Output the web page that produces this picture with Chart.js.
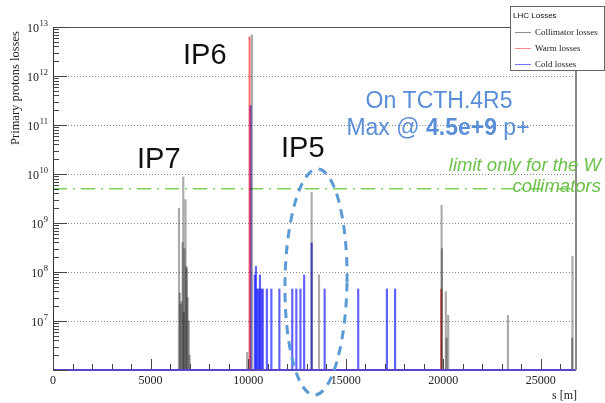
<!DOCTYPE html>
<html>
<head>
<meta charset="utf-8">
<script src="https://cdn.jsdelivr.net/npm/chart.js@4.4.0/dist/chart.umd.min.js"></script>
<style>
html,body{margin:0;padding:0;background:#fff}
#wrap{width:605px;height:403px}
</style>
</head>
<body>
<div id="wrap"><canvas id="c"></canvas></div>
<script>
// loss map: s position [m] and primary proton losses
const collS = [6455,6500,6540,6590,6640,6676,6700,6740,6790,6830,6860,6900,6960,7000,
               9950,10195,13253,13630,19913,19930,20130,20170,20250,23310,26600,26620];
const collV = [2.0e9,3.7e7,2.2e7,2.5e7,4.0e8,8.7e9,1.5e7,3.0e8,3.0e9,1.3e8,1.2e8,3.0e7,1.0e7,2.0e6,
               2.3e6,6.9e12,4.2e9,8.7e7,2.3e9,3.0e8,4.0e7,4.5e6,1.3e7,1.3e7,4.5e6,2.1e8];
const warmS = [10075,19890];
const warmV = [6.3e12,4.5e7];
const coldS = [10120,10340,10400,10470,10540,10605,10680,10750,10960,11190,11600,12260,12470,
               12680,12870,13253,13920,15640,17110,17530];
const coldV = [2.5e11,8.7e7,1.3e8,4.5e7,4.5e7,8.7e7,4.5e7,4.5e7,4.5e7,4.5e7,4.5e7,4.5e7,4.5e7,
               4.5e7,8.7e7,3.9e8,4.5e7,4.5e7,4.5e7,4.5e7];
const limitS = [0,26800];
const limitV = [5e9,5e9];
const xTicks = [0,5000,10000,15000,20000,25000];
const yTicks = [1e6,1e7,1e8,1e9,1e10,1e11,1e12,1e13];

const pts = (xs,ys)=>xs.map((x,i)=>({x:x,y:ys[i]}));
const SERIF = '"Liberation Serif","DejaVu Serif",serif';
const SANS = '"Liberation Sans",Arial,sans-serif';
const BLUE_TXT = '#5a8ed8';
const GREEN = '#6cc14a';

// frame, inward ticks, labels, notes and legend (ROOT style)
const overlay = {
  id:'overlay',
  afterDatasetsDraw(chart){
    const {ctx, chartArea:a} = chart;
    ctx.save();
    ctx.strokeStyle='#5b46c9'; ctx.lineWidth=2;
    ctx.beginPath(); ctx.moveTo(a.left,a.bottom); ctx.lineTo(a.right,a.bottom); ctx.stroke();
    ctx.restore();
  },
  afterDraw(chart){
    const {ctx, chartArea:a} = chart;
    const xs=chart.scales.x, ys=chart.scales.y;
    ctx.save();
    // frame
    ctx.lineWidth=1;
    ctx.strokeStyle='#333';
    ctx.beginPath(); ctx.moveTo(a.left+0.5,a.bottom); ctx.lineTo(a.left+0.5,a.top); ctx.stroke();
    ctx.strokeStyle='#555';
    ctx.beginPath(); ctx.moveTo(a.left,a.top+0.5); ctx.lineTo(a.right,a.top+0.5); ctx.stroke();
    ctx.strokeStyle='#8a8a8a'; ctx.lineWidth=2;
    ctx.beginPath(); ctx.moveTo(a.right,a.top); ctx.lineTo(a.right,a.bottom); ctx.stroke();

    // x ticks pointing inward
    ctx.strokeStyle='#444'; ctx.lineWidth=1;
    for(let s=0;s<=xs.max;s+=1000){
      const px=Math.round(xs.getPixelForValue(s))+0.5;
      const len = s%5000===0 ? 10 : 5;
      ctx.beginPath(); ctx.moveTo(px,a.bottom-1); ctx.lineTo(px,a.bottom-1-len); ctx.stroke();
    }
    // y ticks pointing inward
    ys.ticks.forEach(t=>{
      const py=Math.round(ys.getPixelForValue(t.value))+0.5;
      ctx.beginPath(); ctx.moveTo(a.left,py); ctx.lineTo(a.left+14,py); ctx.stroke();
      if(t.value<ys.max){
        for(let m=2;m<=9;m++){
          const q=Math.round(ys.getPixelForValue(t.value*m))+0.5;
          ctx.beginPath(); ctx.moveTo(a.left,q); ctx.lineTo(a.left+6,q); ctx.stroke();
        }
      }
    });

    // y tick labels 10^n
    ctx.fillStyle='#222'; ctx.textBaseline='alphabetic';
    ys.ticks.forEach(t=>{
      if(t.value<=ys.min) return;
      const py=ys.getPixelForValue(t.value);
      const e=String(Math.round(Math.log10(t.value)));
      ctx.font='8.5px '+SERIF; ctx.textAlign='right';
      const ew=ctx.measureText(e).width;
      ctx.fillText(e,48,py-1);
      ctx.font='12px '+SERIF;
      ctx.fillText('10',48-ew-0.5,py+5);
    });

    // axis titles
    ctx.font='12px '+SERIF; ctx.textAlign='right';
    ctx.fillText('s [m]',577,399);
    ctx.save();
    ctx.translate(19,88); ctx.rotate(-Math.PI/2);
    ctx.font='12.5px '+SERIF; ctx.textAlign='center';
    ctx.fillText('Primary protons losses',0,0);
    ctx.restore();

    // IP labels
    ctx.fillStyle='#111'; ctx.font='29px '+SANS; ctx.textAlign='left';
    ctx.fillText('IP7',137,168);
    ctx.fillText('IP6',183,64);
    ctx.fillText('IP5',281,157);

    // TCTH note
    ctx.fillStyle=BLUE_TXT; ctx.font='23px '+SANS; ctx.textAlign='center';
    ctx.fillText('On TCTH.4R5',439,108);
    const p1='Max @ ', p2='4.5e+9', p3=' p+';
    ctx.font='23px '+SANS; const w1=ctx.measureText(p1).width, w3=ctx.measureText(p3).width;
    ctx.font='bold 23px '+SANS; const w2=ctx.measureText(p2).width;
    let x0=438-(w1+w2+w3)/2;
    ctx.textAlign='left';
    ctx.font='23px '+SANS; ctx.fillText(p1,x0,135);
    ctx.font='bold 23px '+SANS; ctx.fillText(p2,x0+w1,135);
    ctx.font='23px '+SANS; ctx.fillText(p3,x0+w1+w2,135);

    // limit note
    ctx.fillStyle=GREEN; ctx.font='italic 18.5px '+SANS; ctx.textAlign='right';
    ctx.fillText('limit only for the W',601,171);
    ctx.fillText('collimators',601,192);

    // dashed ellipse round IP5
    ctx.strokeStyle='#5b9bd5'; ctx.lineWidth=3; ctx.setLineDash([9,7]);
    ctx.beginPath(); ctx.ellipse(316,282,31,113,0.015,0,Math.PI*2); ctx.stroke();
    ctx.setLineDash([]);

    // legend
    const lx=510, ly=6, lw=94, lh=64;
    ctx.fillStyle='#fff'; ctx.fillRect(lx,ly,lw,lh);
    ctx.strokeStyle='#666'; ctx.lineWidth=1; ctx.strokeRect(lx+0.5,ly+0.5,lw,lh);
    ctx.fillStyle='#111'; ctx.font='8px '+SANS; ctx.textAlign='left';
    ctx.fillText('LHC Losses',lx+3,ly+12);
    const legCols=['#8c8c8c','#ff8a8a','#7474ff'];
    chart.data.datasets.slice(0,3).forEach((d,i)=>{
      const yy=ly+26+i*16;
      ctx.strokeStyle=legCols[i]; ctx.lineWidth=1;
      ctx.beginPath(); ctx.moveTo(lx+5,yy+0.5); ctx.lineTo(lx+21,yy+0.5); ctx.stroke();
      ctx.fillStyle='#222'; ctx.font='9px '+SERIF;
      ctx.fillText(d.label,lx+25,yy+3);
    });
    ctx.restore();
  }
};

new Chart(document.getElementById('c'),{
  type:'bar',
  data:{datasets:[
    {label:'Collimator losses',data:pts(collS,collV),backgroundColor:'rgba(0,0,0,0.33)'},
    {label:'Warm losses',data:pts(warmS,warmV),backgroundColor:'rgba(255,0,0,0.55)'},
    {label:'Cold losses',data:pts(coldS,coldV),backgroundColor:'rgba(0,0,255,0.62)'},
    {type:'line',label:'limit',data:pts(limitS,limitV),borderColor:'#7ed35e',borderWidth:1.5,
     borderDash:[14,6,2,6],pointRadius:0,fill:false}
  ]},
  options:{
    responsive:true,maintainAspectRatio:false,animation:false,
    layout:{padding:{top:27,right:29,left:0,bottom:0}},
    datasets:{bar:{grouped:false,barThickness:1.5,base:1e6}},
    plugins:{legend:{display:false},tooltip:{enabled:false}},
    scales:{
      x:{type:'linear',min:0,max:26800,offset:false,
        afterBuildTicks:s=>{s.ticks=xTicks.map(v=>({value:v}));},
        afterFit:s=>{s.height=33;},
        grid:{display:false,drawTicks:false,offset:false},border:{display:false},
        ticks:{padding:4,color:'#222',font:{family:SERIF,size:12},callback:v=>String(v)}},
      y:{type:'logarithmic',min:1e6,max:1e13,
        afterBuildTicks:s=>{s.ticks=yTicks.map(v=>({value:v}));},
        afterFit:s=>{s.width=53;},
        grid:{color:'#8a8a8a',lineWidth:1,drawTicks:false},
        border:{display:false,dash:[1,2]},
        ticks:{display:false}}
    }
  },
  plugins:[overlay]
});
</script>
</body>
</html>
